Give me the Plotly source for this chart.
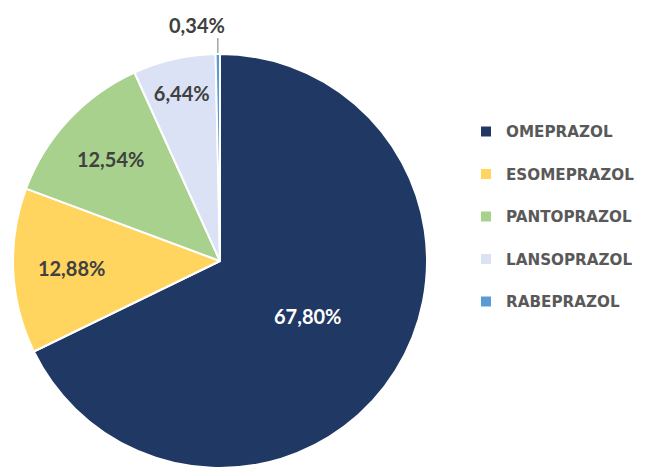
import plotly.graph_objects as go
import math

categories = ["OMEPRAZOL", "ESOMEPRAZOL", "PANTOPRAZOL", "LANSOPRAZOL", "RABEPRAZOL"]
values = [67.80, 12.88, 12.54, 6.44, 0.34]
colors = ["#203864", "#FFD45F", "#A9D18E", "#DCE2F5", "#5B9BD5"]
text_colors = ["#FFFFFF", "#404040", "#404040", "#404040", "#404040"]

W, H = 648, 468
mt, mb = 54, 0
PH = H - mt - mb
R = PH / 2
cx = 220
dom_x = [(cx - R) / W, (cx + R) / W]


def py(p):
    """pixel y from top of figure -> paper y"""
    return 1 - (p - mt) / PH


labels = [c + "<br>&nbsp;" for c in categories]
templates = ["%{value:.2f}%"] * (len(values) - 1) + [""]

fig = go.Figure(go.Pie(
    labels=labels,
    values=values,
    sort=False,
    direction="clockwise",
    rotation=0,
    marker=dict(colors=colors, line=dict(color="#FFFFFF", width=2)),
    texttemplate=templates,
    textposition="inside",
    insidetextorientation="horizontal",
    textfont=dict(family="Lato", size=20, color=text_colors, weight="bold"),
    domain=dict(x=dom_x, y=[0, 1]),
    hoverinfo="label+percent",
))

# label for the tiny last slice, placed above it with a leader line
total = sum(values)
mid_frac = (total - values[-1] / 2) / total
ang = 2 * math.pi * mid_frac
cy_px = mt + R
tip_x = cx + R * math.sin(ang)
tip_y = cy_px - R * math.cos(ang)
line_top = tip_y - 16
fig.add_shape(type="line", xref="paper", yref="paper",
              x0=tip_x / W, x1=tip_x / W,
              y0=py(tip_y - 1), y1=py(line_top),
              line=dict(color="#A6A6A6", width=1.5))
fig.add_annotation(xref="paper", yref="paper",
                   x=(tip_x - 21) / W, y=py(line_top - 13),
                   xanchor="center", yanchor="middle",
                   text=("%.2f%%" % values[-1]).replace(".", ","), showarrow=False,
                   font=dict(family="Lato", size=20, color="#404040", weight="bold"))

fig.update_layout(
    width=W, height=H,
    margin=dict(l=0, r=0, t=mt, b=mb),
    paper_bgcolor="#FFFFFF",
    separators=",.",
    showlegend=True,
    legend=dict(
        x=466 / W, xanchor="left", y=py(115), yanchor="top",
        font=dict(family="DejaVu Sans", size=15.2, color="#595959", weight="bold"),
        valign="top",
        bgcolor="rgba(0,0,0,0)",
    ),
)

fig.write_html("out.html")
